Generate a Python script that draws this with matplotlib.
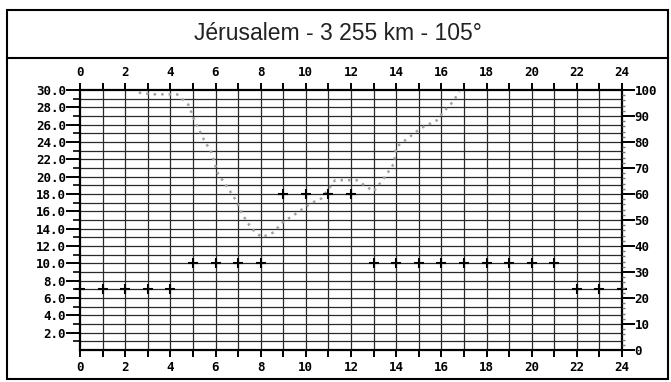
import matplotlib
matplotlib.use("Agg")
import matplotlib.pyplot as plt
from matplotlib.patches import Rectangle
from matplotlib.lines import Line2D

title = "Jérusalem - 3 255 km - 105°"

# hourly markers (MHz, left axis)
marker_hours = list(range(0, 25))
marker_freq = [7, 7, 7, 7, 7,
               10, 10, 10, 10,
               18, 18, 18, 18,
               10, 10, 10, 10, 10, 10, 10, 10, 10,
               7, 7, 7]

# dotted curve
curve_hours = [2.6, 3.2, 4.3, 4.8, 5.1, 5.5, 5.8, 6.1, 6.6, 6.9, 7.2, 7.6, 8.05,
               8.6, 8.9, 9.6, 10.2, 10.7, 11.3, 12.25, 13.0, 13.4, 13.9, 14.0,
               14.5, 15.1, 15.8, 16.1, 16.5, 16.8]
curve_values = [29.7, 29.5, 29.5, 28.3, 26.3, 24.2, 22.9, 20.4, 18.5, 17.3, 15.6,
                14.0, 13.0, 13.6, 14.6, 15.8, 16.9, 17.5, 19.6, 19.6, 18.3, 19.6,
                21.5, 23.4, 24.4, 25.6, 26.5, 27.5, 28.6, 29.8]

left_ticks = list(range(2, 31, 2))
left_labels = [f"{v:.1f}" for v in left_ticks]
hour_ticks = list(range(0, 25, 2))
right_ticks = list(range(0, 101, 10))

W, H = 671, 382
fig = plt.figure(figsize=(W / 100, H / 100), dpi=100)

# outer frame and title box
fig.patches.append(Rectangle((7 / W, 1 - 379 / H), (668 - 7) / W, (379 - 10) / H,
                             transform=fig.transFigure, fill=False, lw=1.5,
                             edgecolor="black"))
fig.lines.append(Line2D([7 / W, 668 / W], [1 - 58 / H, 1 - 58 / H],
                        transform=fig.transFigure, lw=1.5, color="black"))
fig.text(338 / W, 1 - 33 / H, title, ha="center", va="center", fontsize=16.5,
         family="Liberation Sans", color="#222222")

ax = fig.add_axes([80 / W, 1 - 350 / H, (622 - 80) / W, (350 - 90) / H])
ax.set_xlim(0, 24)
ax.set_ylim(0, 30)

# grid every hour / every unit
for h in range(1, 24):
    ax.axvline(h, color="#2a2a2a", lw=0.9, zorder=1)
for v in range(1, 30):
    ax.axhline(v, color="#2a2a2a", lw=0.9, zorder=1)

for sp in ax.spines.values():
    sp.set_linewidth(1.6)

tick_font = dict(family="DejaVu Sans Mono", weight="bold", size=9)

ax.set_yticks(left_ticks)
ax.set_yticklabels(left_labels, **tick_font)
ax.set_yticks(range(1, 30, 2), minor=True)
ax.tick_params(axis="y", which="major", direction="out", length=10, width=1.4, pad=0)
ax.tick_params(axis="y", which="minor", direction="out", length=5, width=1.2)

ax.set_xticks(hour_ticks)
ax.set_xticklabels([str(h) for h in hour_ticks], **tick_font)
ax.set_xticks(range(1, 24, 2), minor=True)
ax.tick_params(axis="x", which="both", direction="out", length=5, width=1.4,
               top=True, labeltop=True, bottom=True, labelbottom=True, pad=3)

ax.plot(curve_hours, curve_values, color="#a0a0a0", lw=1.8,
        linestyle=(0, (1, 2)), zorder=3)
ax.plot(marker_hours, marker_freq, linestyle="none", marker="+", markersize=7,
        markeredgewidth=1.5, color="black", zorder=4, clip_on=False)

ax2 = ax.twinx()
ax2.set_ylim(0, 100)
ax2.set_yticks(right_ticks)
ax2.set_yticklabels([str(v) for v in right_ticks], **tick_font)
ax2.set_yticks(range(0, 101, 2), minor=True)
ax2.tick_params(axis="y", which="major", direction="out", length=9, width=1.4, pad=0)
ax2.tick_params(axis="y", which="minor", direction="out", length=2.5, width=1.0,
                color="#777777")
for sp in ax2.spines.values():
    sp.set_visible(False)

fig.savefig("out.png", dpi=100)
